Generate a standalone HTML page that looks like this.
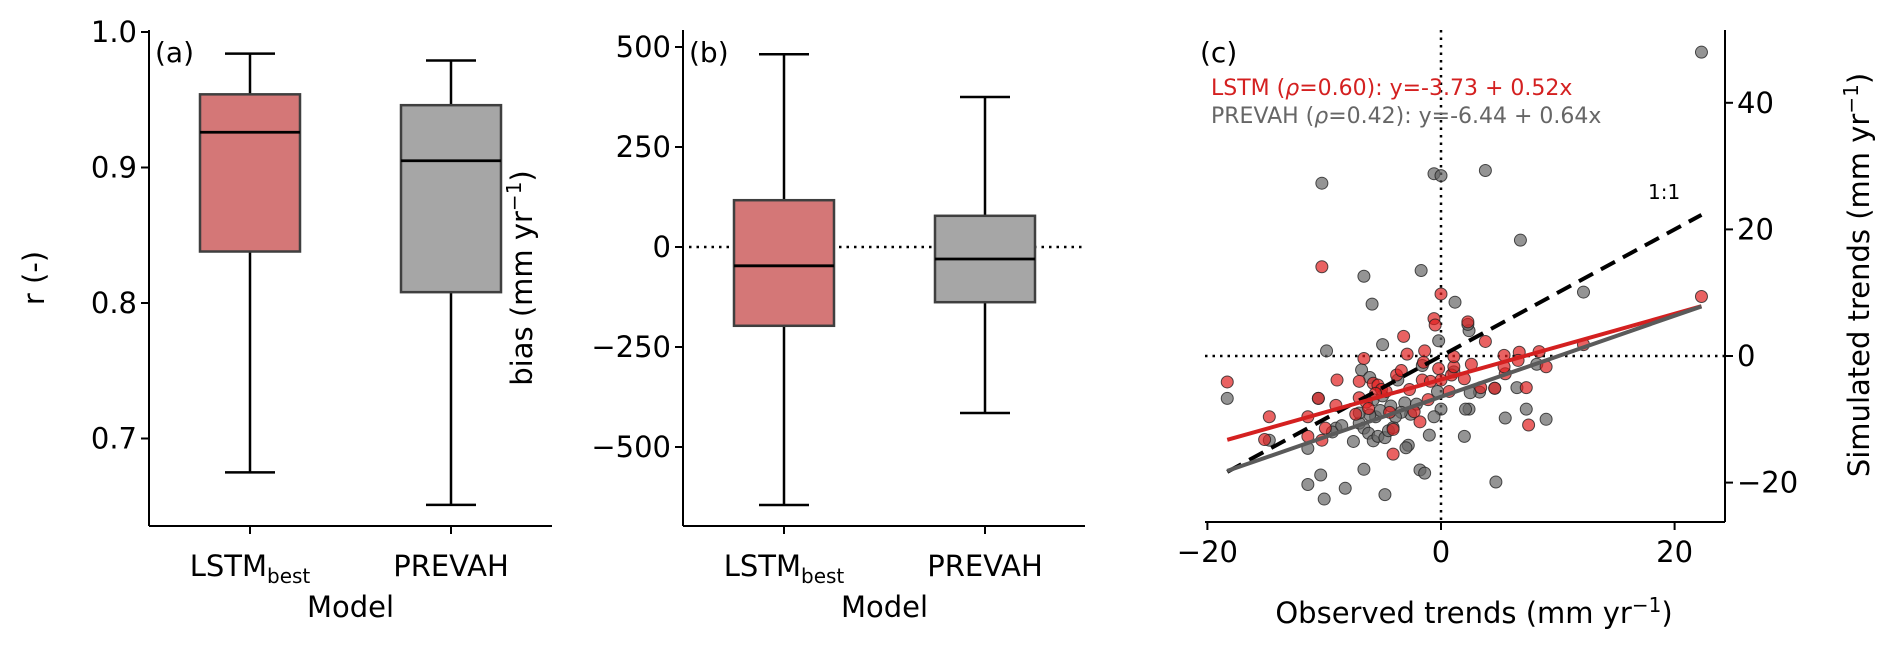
<!DOCTYPE html>
<html><head><meta charset="utf-8"><style>
html,body{margin:0;padding:0;background:#fff}
svg{display:block;font-family:"DejaVu Sans","Liberation Sans",sans-serif}
</style></head><body>
<svg id="fig" width="1892" height="650" viewBox="0 0 1892 650" xmlns="http://www.w3.org/2000/svg"></svg>
<script>
// Panel (a) data
const modelsA = ["LSTM", "PREVAH"];
const rWhiskLo = [0.675, 0.651];
const rQ1 = [0.838, 0.808];
const rMed = [0.926, 0.905];
const rQ3 = [0.954, 0.946];
const rWhiskHi = [0.984, 0.979];
const rTicks = [0.7, 0.8, 0.9, 1.0];
const rTickLabels = ["0.7", "0.8", "0.9", "1.0"];
// Panel (b) data
const biasWhiskLo = [-645, -415];
const biasQ1 = [-197, -138];
const biasMed = [-47, -30];
const biasQ3 = [117, 78];
const biasWhiskHi = [482, 375];
const biasTicks = [-500, -250, 0, 250, 500];
const biasTickLabels = ["\u2212500", "\u2212250", "0", "250", "500"];
// Panel (c) data
const obsTicks = [-20, 0, 20];
const obsTickLabels = ["\u221220", "0", "20"];
const simTicks = [-20, 0, 20, 40];
const simTickLabels = ["\u221220", "0", "20", "40"];
const prevahObs = [22.3,-10.2,-0.6,0,3.8,6.8,-6.6,-1.7,-5.9,1.2,12.2,2.4,2.3,-5,-9.8,-0.2,-18.3,-14.7,-11.4,-10.5,-10.3,-11.4,-10,-8.2,-6.6,-4.8,-1.8,-1.4,4.7,2,-1,-2.8,-3,5.5,9,7.3,2.4,2.1,0,-0.6,3.3,-0.3,6.5,4.6,8.2,1.1,2.5,-6.8,-6.1,-3.7,-1.6,-7.5,-9,-9.3,-8.5,-7,-6.6,-6.2,-5.8,-5.4,-4.8,-4.5,-4.1,-5.6,-5.2,-5.8,-5,-4.3,-3.1,-2.6,-2.1,-3.4,-3.9,-6.1,-7];
const prevahSim = [48,27.3,28.8,28.5,29.3,18.3,12.6,13.5,8.2,8.5,10.1,4,5,1.8,0.8,2.4,-6.7,-13.3,-14.6,-6.7,-18.8,-20.3,-22.6,-20.9,-17.9,-21.9,-18,-18.5,-19.9,-12.7,-12.5,-14.1,-14.5,-9.8,-10,-8.4,-8.4,-8.4,-8.4,-9.6,-5.7,-5.6,-5,-5.1,-1.3,-2.5,-5.8,-2.2,-3.4,-3.8,-1.5,-13.5,-11.4,-12,-11,-10.6,-11.4,-12.2,-13.4,-12.7,-12.9,-11.8,-11.3,-9.6,-8.6,-6.9,-6.3,-7.9,-7.4,-9.2,-7.6,-8.9,-9.6,-9.3,-9];
const lstmObs = [-18.3,-14.7,-15.1,-10.2,0,22.3,12.2,-0.6,-0.5,-3.2,2.3,3.8,-1.4,-2.9,-6.6,-8.9,-10.5,-9,-7,-5.8,-5.4,-5.1,-4.7,-5.6,-7,-6.4,-7.3,-11.4,-9.9,-11.4,-10.2,-4.1,-4.1,-1.8,-3.8,-3.4,-1.5,-1.6,-0.9,-0.2,0,0.9,1.1,1.1,2,2.6,0.7,-2.7,3.4,4.6,5.5,5.4,5.4,6.7,6.6,8.4,9,7.3,7.5,-4.4,-2.3,-1.1,-6.2];
const lstmSim = [-4.1,-9.6,-13.2,14.1,9.8,9.4,1.8,5.9,4.9,3.1,5.4,2.3,0.8,0.3,-0.4,-3.8,-6.7,-7.8,-4,-4.3,-4.6,-5.3,-5.6,-5.9,-6.6,-7.3,-9.2,-9.6,-11.4,-12.7,-13.3,-15.5,-11.6,-10.4,-3,-2.3,-1,-3.8,-4,-2,-3.8,-3,-1.7,-0.1,-3.6,-1.3,-5.6,-5.3,-5,-5.1,-2.8,-1.7,0.1,0.6,-0.7,0.7,-1.7,-5,-10.9,-8.9,-8.8,-6.9,-8.3];
const lstmFit = [-3.73, 0.52];
const prevahFit = [-6.44, 0.64];

const NS = "http://www.w3.org/2000/svg";
const svg = document.getElementById("fig");
function el(tag, attrs, parent, text) {
  const e = document.createElementNS(NS, tag);
  for (const k in attrs) e.setAttribute(k, attrs[k]);
  if (text !== undefined) e.textContent = text;
  (parent || svg).appendChild(e);
  return e;
}
const FS = 29;

// ---------- Panel A ----------
const gA = el("g", {});  
const aL = 149, aR = 552, aT = 30, aB = 526;
const yA = v => 32 + (1.0 - v) * 1355;
const xA = [250, 451];
// ---------- Panel B ----------
const gB = el("g", {});  
const bL = 683, bR = 1085, bT = 30, bB = 526;
const yB = v => 247 - v * 0.4;
const xB = [784, 985];

function boxPanel(g, xs, yf, lo, q1, md, q3, hi, L, R, T, B, ticks, tickLabs, ylab, ylabX, plabel, hasZero) {
  const fills = ["#d47777", "#a6a6a6"];
  if (hasZero) {
    const z = el("line", {x1: L + 6, x2: R, y1: yf(0), y2: yf(0), stroke: "#000", "stroke-width": 2.5, "stroke-dasharray": "2.5 5"}, g);
     
  }
  for (let i = 0; i < xs.length; i++) {
    const bg = el("g", {}, g);
     
    const x = xs[i], hw = 50, cw = 25;
    el("line", {x1: x, x2: x, y1: yf(hi[i]), y2: yf(q3[i]), stroke: "#000", "stroke-width": 2.5}, bg);
    el("line", {x1: x, x2: x, y1: yf(q1[i]), y2: yf(lo[i]), stroke: "#000", "stroke-width": 2.5}, bg);
    el("line", {x1: x - cw, x2: x + cw, y1: yf(hi[i]), y2: yf(hi[i]), stroke: "#000", "stroke-width": 2.5}, bg);
    el("line", {x1: x - cw, x2: x + cw, y1: yf(lo[i]), y2: yf(lo[i]), stroke: "#000", "stroke-width": 2.5}, bg);
    el("rect", {x: x - hw, y: yf(q3[i]), width: 2 * hw, height: yf(q1[i]) - yf(q3[i]), fill: fills[i], stroke: "#3f3f3f", "stroke-width": 2.5}, bg);
    el("line", {x1: x - hw, x2: x + hw, y1: yf(md[i]), y2: yf(md[i]), stroke: "#000", "stroke-width": 2.8}, bg);
  }
  el("line", {x1: L, x2: L, y1: T, y2: B, stroke: "#000", "stroke-width": 2}, g);
  el("line", {x1: L, x2: R, y1: B, y2: B, stroke: "#000", "stroke-width": 2}, g);
  for (let i = 0; i < ticks.length; i++) {
    const y = yf(ticks[i]);
    el("line", {x1: L - 8, x2: L, y1: y, y2: y, stroke: "#000", "stroke-width": 2}, g);
    const t = el("text", {x: L - 12, y: y + 10, "font-size": FS, "text-anchor": "end"}, g, tickLabs[i]);
     
  }
  for (let i = 0; i < xs.length; i++) {
    el("line", {x1: xs[i], x2: xs[i], y1: B, y2: B + 8, stroke: "#000", "stroke-width": 2}, g);
    const t = el("text", {x: xs[i], y: 576, "font-size": FS, "text-anchor": "middle"}, g);
     
    if (i === 0) {
      el("tspan", {}, t, "LSTM");
      el("tspan", {"font-size": 20, dy: 7}, t, "best");
    } else t.textContent = "PREVAH";
  }
  const xl = el("text", {x: (xs[0] + xs[1]) / 2, y: 617, "font-size": FS, "text-anchor": "middle"}, g, "Model");
   
  const yl = el("text", {x: ylabX, y: 278, "font-size": FS, "text-anchor": "middle", transform: `rotate(-90 ${ylabX} 278)`}, g);
   
  if (ylab === "r") yl.textContent = "r (-)";
  else { el("tspan", {}, yl, "bias (mm yr"); el("tspan", {"font-size": 20, dy: -11}, yl, "\u22121"); el("tspan", {dy: 11}, yl, ")"); }
  const pl = el("text", {x: L + 6, y: 62, "font-size": 28}, g, plabel);
   
}
boxPanel(gA, xA, yA, rWhiskLo, rQ1, rMed, rQ3, rWhiskHi, aL, aR, aT, aB, rTicks, rTickLabels, "r", 44, "(a)", false);
boxPanel(gB, xB, yB, biasWhiskLo, biasQ1, biasMed, biasQ3, biasWhiskHi, bL, bR, bT, bB, biasTicks, biasTickLabels, "bias", 532, "(b)", true);

// ---------- Panel C ----------
const gC = el("g", {});  
const cL = 1205, cR = 1725, cT = 30, cB = 522;
const xC = v => 1441 + v * 11.68;
const yC = v => 356 - v * 6.33;
let zl = el("line", {x1: cL, x2: cR, y1: yC(0), y2: yC(0), stroke: "#000", "stroke-width": 2.5, "stroke-dasharray": "2.5 5"}, gC);
 
zl = el("line", {x1: xC(0), x2: xC(0), y1: cT, y2: cB, stroke: "#000", "stroke-width": 2.5, "stroke-dasharray": "2.5 5"}, gC);
 
const xmin = Math.min(...lstmObs), xmax = Math.max(...lstmObs);
function drawPts(xs, ys, fill, name) {
  const g = el("g", {}, gC);
   
  for (let i = 0; i < xs.length; i++) {
    const c = el("circle", {cx: xC(xs[i]), cy: yC(ys[i]), r: 6, fill: fill, "fill-opacity": 0.7, stroke: "#222", "stroke-opacity": 0.8, "stroke-width": 1}, g);
     
  }
}
drawPts(prevahObs, prevahSim, "#666", "prevah-points");
drawPts(lstmObs, lstmSim, "#e02020", "lstm-points");
let ln = el("line", {x1: xC(xmin), y1: yC(xmin), x2: xC(xmax), y2: yC(xmax), stroke: "#000", "stroke-width": 4, "stroke-dasharray": "16 9"}, gC);
 
ln = el("line", {x1: xC(xmin), y1: yC(lstmFit[0] + lstmFit[1] * xmin), x2: xC(xmax), y2: yC(lstmFit[0] + lstmFit[1] * xmax), stroke: "#d42020", "stroke-width": 4}, gC);
 
ln = el("line", {x1: xC(xmin), y1: yC(prevahFit[0] + prevahFit[1] * xmin), x2: xC(xmax), y2: yC(prevahFit[0] + prevahFit[1] * xmax), stroke: "#5a5a5a", "stroke-width": 4}, gC);
 
el("line", {x1: cL, x2: cR, y1: cB, y2: cB, stroke: "#000", "stroke-width": 2}, gC);
el("line", {x1: cR, x2: cR, y1: cT, y2: cB, stroke: "#000", "stroke-width": 2}, gC);
for (let i = 0; i < obsTicks.length; i++) {
  const x = xC(obsTicks[i]);
  el("line", {x1: x, x2: x, y1: cB, y2: cB + 8, stroke: "#000", "stroke-width": 2}, gC);
  const t = el("text", {x: x, y: 562, "font-size": FS, "text-anchor": "middle"}, gC, obsTickLabels[i]);
   
}
for (let i = 0; i < simTicks.length; i++) {
  const y = yC(simTicks[i]);
  el("line", {x1: cR, x2: cR + 8, y1: y, y2: y, stroke: "#000", "stroke-width": 2}, gC);
  const t = el("text", {x: cR + 12, y: y + 10, "font-size": FS}, gC, simTickLabels[i]);
   
}
let tx = el("text", {x: 1474, y: 623, "font-size": FS, "text-anchor": "middle"}, gC);
 
el("tspan", {}, tx, "Observed trends (mm yr"); el("tspan", {"font-size": 20, dy: -11}, tx, "\u22121"); el("tspan", {dy: 11}, tx, ")");
tx = el("text", {x: 1869, y: 275, "font-size": FS, "text-anchor": "middle", transform: "rotate(-90 1869 275)"}, gC);
 
el("tspan", {}, tx, "Simulated trends (mm yr"); el("tspan", {"font-size": 20, dy: -11}, tx, "\u22121"); el("tspan", {dy: 11}, tx, ")");
tx = el("text", {x: 1200, y: 62, "font-size": 28}, gC, "(c)");
 
tx = el("text", {x: 1211, y: 95, "font-size": 22, fill: "#d42020"}, gC);
 
el("tspan", {}, tx, "LSTM ("); el("tspan", {"font-style": "italic"}, tx, "\u03C1"); el("tspan", {}, tx, "=0.60): y=-3.73 + 0.52x");
tx = el("text", {x: 1211, y: 123, "font-size": 22, fill: "#666"}, gC);
 
el("tspan", {}, tx, "PREVAH ("); el("tspan", {"font-style": "italic"}, tx, "\u03C1"); el("tspan", {}, tx, "=0.42): y=-6.44 + 0.64x");
tx = el("text", {x: 1648, y: 199, "font-size": 20}, gC, "1:1");
 
</script>
</body></html>
